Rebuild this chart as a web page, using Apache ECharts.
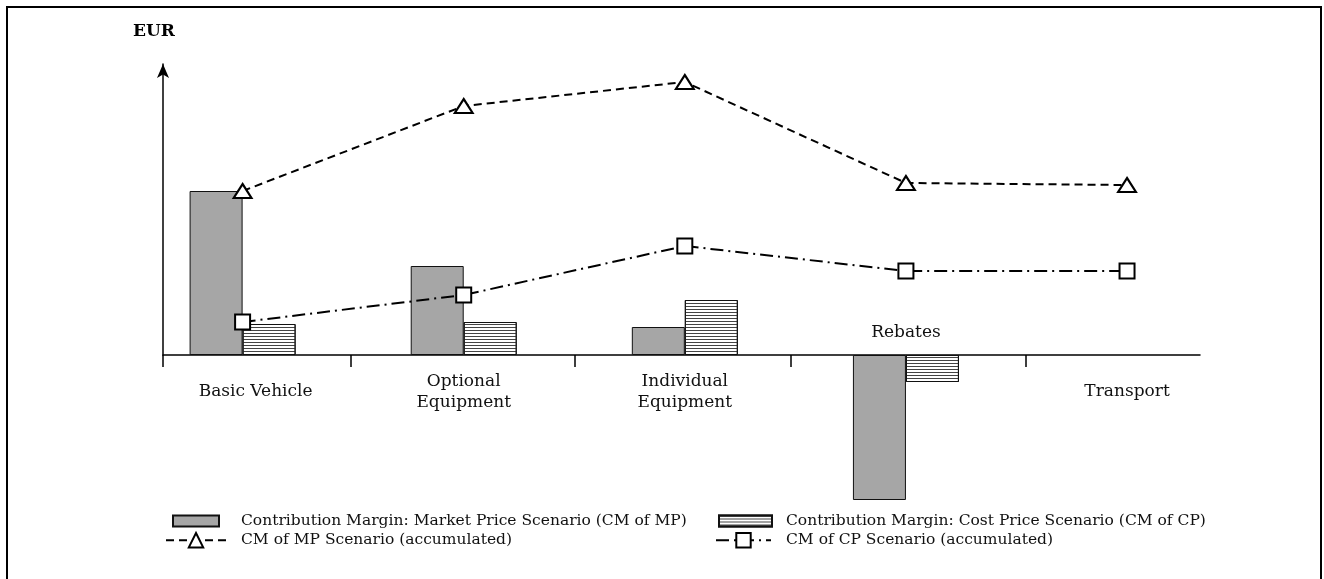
<!DOCTYPE html>
<html>
<head>
<meta charset="utf-8">
<title>contribution-margin</title>
<style>
html,body{margin:0;padding:0;overflow:hidden;background:#fff}
#chart{width:1324px;height:579px}
#frame{position:absolute;left:6px;top:6px;width:1312px;height:620px;border:2px solid #000;pointer-events:none}
</style>
</head>
<body>
<div id="chart"></div>
<div id="frame"></div>
<script src="https://cdn.jsdelivr.net/npm/echarts@6/dist/echarts.min.js"></script>
<script>
// categories and values (EUR, arbitrary unit)
const categories = ['Basic Vehicle', 'Optional\nEquipment', 'Individual\nEquipment', 'Rebates', 'Transport'];
const cmMarketPrice = [164, 89, 28, -145, null];
const cmCostPrice = [31, 33, 55, -27, null];
const cmMarketAccum = [164, 249, 273, 172, 170];
const cmCostAccum = [33, 60, 109, 84, 84];
const names = [
    'Contribution Margin: Market Price Scenario (CM of MP)',
    'Contribution Margin: Cost Price Scenario (CM of CP)',
    'CM of MP Scenario (accumulated)',
    'CM of CP Scenario (accumulated)'
];
// x runs in category units, the axis starts a bit left of the first group
const xMin = -0.36, xMax = 4.33;
const separators = [xMin, 0.49, 1.5, 2.48, 3.54];

const FONT = 'DejaVu Serif';
const pts = arr => arr.map((v, i) => [i, v]);

const chart = echarts.init(document.getElementById('chart'));

function legendAt(name, left, top, w, h, pad, icon) {
    return {
        data: [{ name: name, icon: icon }], left: left, top: top, orient: 'horizontal',
        itemWidth: w, itemHeight: h, padding: 0,
        textStyle: { fontFamily: FONT, fontSize: 15.5, color: '#111', padding: [0, 0, 0, pad] }
    };
}

chart.setOption({
    animation: false,
    textStyle: { fontFamily: FONT },
    grid: [
        // data grid, 0 sits at y=355
        { left: 163, right: 124, top: 55, bottom: 74, outerBoundsMode: 'none' },
        // axis grid: x axis on the zero line, y axis with arrow
        { left: 163, right: 124, top: 64, bottom: 224, outerBoundsMode: 'none' }
    ],
    legend: [
        legendAt(names[0], 172, 513, 46, 11, 17, 'rect'),
        legendAt(names[2], 165, 532, 60, 18, 10),
        legendAt(names[1], 718, 513, 53, 11, 9, 'rect'),
        legendAt(names[3], 715, 532, 55, 18, 10)
    ],
    xAxis: [
        { gridIndex: 0, type: 'value', min: xMin, max: xMax, show: false },
        {
            gridIndex: 1, type: 'value', min: xMin, max: xMax, position: 'bottom',
            axisLine: { onZero: false, lineStyle: { color: '#000', width: 1.5 } },
            axisTick: { show: true, customValues: separators, length: 12, lineStyle: { color: '#000', width: 1.5 } },
            axisLabel: {
                customValues: [0, 1, 2, 4], margin: 37, verticalAlign: 'middle',
                fontFamily: FONT, fontSize: 17, color: '#111', lineHeight: 21,
                formatter: v => v === 0 ? '{sh|' + categories[0] + '}' : categories[v],
                rich: { sh: { fontFamily: FONT, fontSize: 17, color: '#111', padding: [0, 0, 0, 26] } }
            },
            splitLine: { show: false }
        },
        {
            gridIndex: 1, type: 'value', min: xMin, max: xMax, position: 'bottom',
            axisLine: { show: false, onZero: false },
            axisTick: { show: false },
            axisLabel: {
                inside: true, customValues: [3], margin: 22, verticalAlign: 'middle',
                fontFamily: FONT, fontSize: 17, color: '#111',
                formatter: v => categories[v]
            },
            splitLine: { show: false }
        }
    ],
    yAxis: [
        { gridIndex: 0, type: 'value', min: -150, max: 300, show: false },
        {
            gridIndex: 1, type: 'value', min: 0, max: 1,
            axisLine: { show: true, onZero: false, symbol: ['none', 'arrow'], symbolSize: [9, 14], lineStyle: { color: '#000', width: 1.5 } },
            axisTick: { show: false }, axisLabel: { show: false }, splitLine: { show: false },
            name: 'EUR', nameLocation: 'end', nameGap: 24,
            nameTextStyle: { fontFamily: FONT, fontWeight: 'bold', fontSize: 17, color: '#000', align: 'center', padding: [0, 18, 0, 0] }
        }
    ],
    series: [
        {
            name: names[0], type: 'bar', xAxisIndex: 0, yAxisIndex: 0,
            data: pts(cmMarketPrice), barWidth: 53, barGap: '0%',
            itemStyle: { color: '#a6a6a6', borderColor: '#111', borderWidth: 1 }
        },
        {
            name: names[1], type: 'bar', xAxisIndex: 0, yAxisIndex: 0,
            data: pts(cmCostPrice), barWidth: 53, barGap: '0%',
            itemStyle: {
                color: '#fff', borderColor: '#111', borderWidth: 1,
                decal: { symbol: 'rect', symbolSize: 1, color: '#444', dashArrayX: [[10, 0]], dashArrayY: [1, 2], rotation: 0 }
            }
        },
        {
            name: names[2], type: 'line', xAxisIndex: 0, yAxisIndex: 0, z: 5,
            data: pts(cmMarketAccum), symbol: 'triangle', symbolSize: [18, 14],
            lineStyle: { color: '#000', width: 2, type: [8, 5] },
            itemStyle: { color: '#fff', borderColor: '#000', borderWidth: 2 }
        },
        {
            name: names[3], type: 'line', xAxisIndex: 0, yAxisIndex: 0, z: 5,
            data: pts(cmCostAccum), symbol: 'rect', symbolSize: 15,
            lineStyle: { color: '#000', width: 2, type: [13, 5, 2, 5] },
            itemStyle: { color: '#fff', borderColor: '#000', borderWidth: 2 }
        }
    ]
});
</script>
</body>
</html>
